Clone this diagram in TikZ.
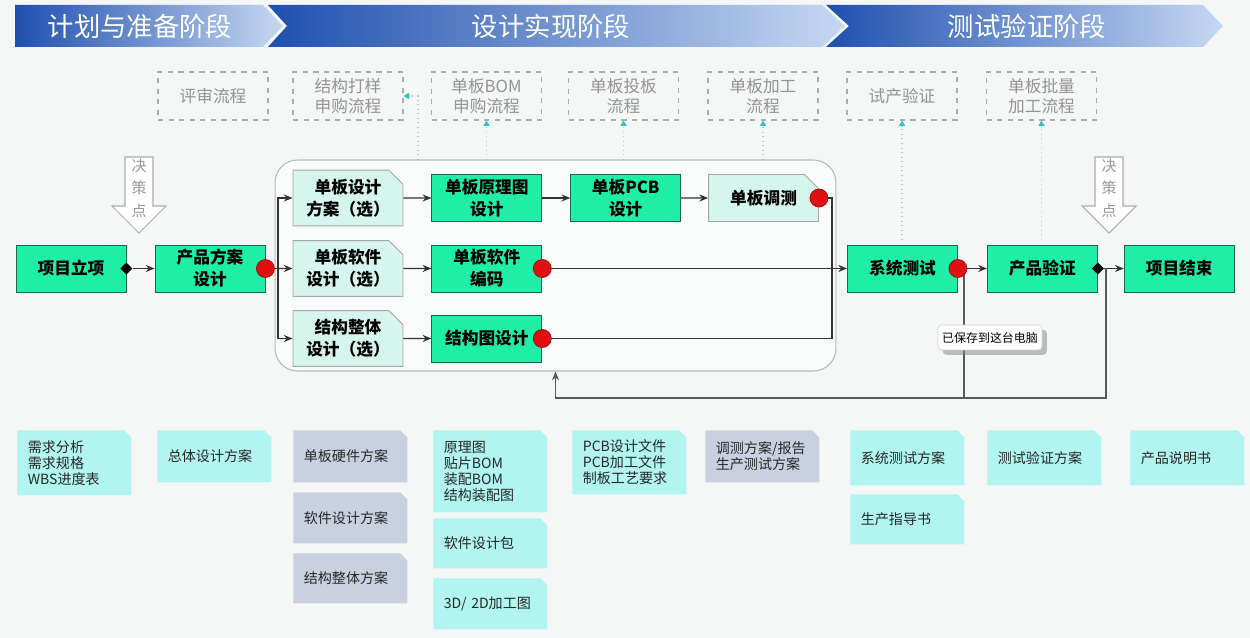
\documentclass[tikz,border=0pt]{standalone}
\usepackage{fontspec}
\setmainfont{Noto Sans CJK SC}
\usepackage{xcolor}
\usepackage{tikz}
\usetikzlibrary{arrows.meta,positioning,shapes,shadows}
\definecolor{hdrdark}{HTML}{1F4FAE}
\definecolor{hdrlight}{HTML}{C6D8F2}
\definecolor{taskgreen}{HTML}{1EEEA6}
\definecolor{optmint}{HTML}{D6F5EC}
\definecolor{doccyan}{HTML}{B2F4F0}
\definecolor{docgray}{HTML}{C9D1E1}
\definecolor{dotred}{HTML}{E00F14}
\definecolor{bgpage}{HTML}{F5F7F7}
\definecolor{guidecyan}{HTML}{2CC6C8}

\begin{document}
\begin{tikzpicture}[
  x=0.02cm, y=-0.02cm,
  phase/.style={font=\fontsize{15}{18}\selectfont,text=white},
  task/.style={rectangle,draw=taskgreen!45!black,fill=taskgreen,line width=0.5pt,
               minimum width=2.2cm,minimum height=0.94cm,inner sep=1pt,align=center,
               font=\bfseries\fontsize{9.5}{12.5}\selectfont},
  option/.style={chamfered rectangle,chamfered rectangle corners=north east,
                 chamfered rectangle xsep=4pt,chamfered rectangle ysep=4pt,
                 draw=gray!70,fill=optmint,line width=0.5pt,
                 minimum width=2.2cm,minimum height=0.94cm,inner sep=1pt,align=center,
                 font=\bfseries\fontsize{9.5}{12.5}\selectfont},
  flow/.style={rectangle,draw=gray!65,dashed,line width=0.6pt,text=gray!85,
               minimum width=2.2cm,minimum height=0.96cm,inner sep=1pt,align=center,
               font=\fontsize{9.5}{11.5}\selectfont},
  doc/.style={chamfered rectangle,chamfered rectangle corners=north east,
              chamfered rectangle xsep=2pt,chamfered rectangle ysep=2pt,
              fill=doccyan,draw=none,anchor=north west,text=black!85,
              text width=1.86cm,inner xsep=0.14cm,inner ysep=1pt,minimum height=1.04cm,
              align=left,font=\fontsize{8}{9.2}\selectfont},
  docg/.style={doc,fill=docgray},
  stage/.style={rectangle,draw=gray!55,fill=white!55!bgpage,line width=0.6pt,
                rounded corners=0.45cm,minimum width=11.22cm,minimum height=4.22cm},
  reddot/.style={circle,fill=dotred,draw=dotred!70!black,line width=0.4pt,
                 minimum size=0.36cm,inner sep=0pt},
  gate/.style={diamond,fill=black,minimum size=7pt,inner sep=0pt},
  wire/.style={line width=0.8pt,draw=black!80},
  arr/.style={wire,-{Stealth[length=5pt,width=4pt]}},
  guide/.style={dotted,draw=gray!45,line width=0.6pt,
                -{Triangle[length=3pt,width=3.5pt,color=guidecyan]}},
  decision/.style={draw=gray!65,fill=white,line width=0.6pt},
  decnote/.style={text=gray!80,align=center,font=\fontsize{8.5}{12.8}\selectfont},
  toast/.style={rectangle,draw=gray!35,fill=white,rounded corners=2pt,drop shadow,
                minimum width=2.08cm,minimum height=0.5cm,inner sep=1pt,
                font=\fontsize{6.8}{8}\selectfont}
]
  \useasboundingbox (0,0) rectangle (1250,638);
  \fill[bgpage] (0,0) rectangle (1250,638);

  % phase header
  \shade[left color=hdrdark,right color=hdrlight]
    (15,5) -- (263,5) -- (283,26) -- (263,47) -- (15,47) -- cycle;
  \shade[left color=hdrdark,right color=hdrlight]
    (268,5) -- (822,5) -- (845,26) -- (822,47) -- (268,47) -- (287,26) -- cycle;
  \shade[left color=hdrdark,right color=hdrlight]
    (826,5) -- (1203,5) -- (1223,26) -- (1203,47) -- (826,47) -- (849,26) -- cycle;
  \node[phase] (phPlan) at (140,26) {计划与准备阶段};
  \node[phase] (phDesign) at (551,26) {设计实现阶段};
  \node[phase] (phTest) at (1027,26) {测试验证阶段};

  % supporting flows
  \node[flow] (fReview) at (213,96) {评审流程};
  \node[flow] (fMech) at (348,96) {结构打样\\申购流程};
  \node[flow] (fBOM) at (486.5,96) {单板BOM\\申购流程};
  \node[flow] (fPCB) at (623.5,96) {单板投板\\流程};
  \node[flow] (fFab) at (763,96) {单板加工\\流程};
  \node[flow] (fTrial) at (902,96) {试产验证};
  \node[flow] (fBatch) at (1041.5,96) {单板批量\\加工流程};

  \coordinate (gMech) at (418,160);
  \coordinate (gBOM) at (486.5,160);
  \coordinate (gPCB) at (623.5,160);
  \coordinate (gFab) at (763,160);
  \coordinate (gTrial) at (902,240);
  \coordinate (gBatch) at (1041.5,240);
  \draw[guide] (gMech) |- (fMech.east);
  \draw[guide] (gBOM) -- (fBOM.south);
  \draw[guide] (gPCB) -- (fPCB.south);
  \draw[guide] (gFab) -- (fFab.south);
  \draw[guide] (gTrial) -- (fTrial.south);
  \draw[guide] (gBatch) -- (fBatch.south);

  % decision points
  \foreach \cx/\nm in {139/decA,1109/decB}{
    \draw[decision] ({\cx-14},157) -- ({\cx+14},157) -- ({\cx+14},206) -- ({\cx+27},206)
      -- (\cx,233) -- ({\cx-27},206) -- ({\cx-14},206) -- cycle;
    \node[decnote] (\nm) at (\cx,188) {决\\策\\点};
  }

  % design stage frame
  \node[stage] (stage) at (555.5,265.5) {};

  % main flow
  \node[task] (start) at (71,268.5) {项目立项};
  \node[task] (scheme) at (210,268.5) {产品方案\\设计};
  \node[option] (hwplan) at (348,198) {单板设计\\方案（选）};
  \node[option] (swplan) at (348,268.5) {单板软件\\设计（选）};
  \node[option] (mechplan) at (348,338.5) {结构整体\\设计（选）};
  \node[task,right=0.56cm of hwplan] (sch) {单板原理图\\设计};
  \node[task,right=0.56cm of swplan] (swcode) {单板软件\\编码};
  \node[task,right=0.56cm of mechplan] (mechdraw) {结构图设计};
  \node[task,right=0.56cm of sch] (pcb) {单板PCB\\设计};
  \node[option,right=0.54cm of pcb] (debug) {单板调测};
  \node[task] (systest) at (902.5,268.5) {系统测试};
  \node[task,right=0.58cm of systest] (verify) {产品验证};
  \node[task,right=0.52cm of verify] (finish) {项目结束};

  \coordinate (br) at (278,268.5);
  \coordinate (mg) at (832,268.5);
  \coordinate (fbA) at (964,268.5);
  \coordinate (fbB) at (1106,268.5);
  \coordinate (fbC) at (555.5,398);

  \node[gate] (gt1) at (start.east) {};
  \node[gate] (gt2) at (verify.east) {};
  \draw[arr] (gt1) -- (scheme);
  \draw[wire] (scheme.east) -- (br);
  \draw[arr] (br) |- (hwplan);
  \draw[arr] (br) -- (swplan);
  \draw[arr] (br) |- (mechplan);
  \draw[arr] (hwplan) -- (sch);
  \draw[arr] (swplan) -- (swcode);
  \draw[arr] (mechplan) -- (mechdraw);
  \draw[arr] (sch) -- (pcb);
  \draw[arr] (pcb) -- (debug);
  \draw[wire] (debug.east) -| (mg);
  \draw[wire] (mechdraw.east) -| (mg);
  \draw[arr] (swcode.east) -- (systest);
  \draw[arr] (systest.east) -- (verify);
  \draw[arr] (gt2) -- (finish);
  \draw[wire,line width=0.6pt,draw=black!65] (fbA) -- (fbA |- fbC);
  \draw[arr,line width=0.6pt,draw=black!65] (fbB) |- (fbC) -- (stage.south);

  \node[reddot] (rd0) at (scheme.east) {};
  \node[reddot] (rd1) at (debug.east) {};
  \node[reddot] (rd2) at (swcode.east) {};
  \node[reddot] (rd3) at (mechdraw.east) {};
  \node[reddot] (rd4) at (systest.east) {};

  % deliverables
  \node[doc,minimum height=1.3cm] (dReq) at (17,430) {需求分析\\需求规格\\WBS进度表};
  \node[doc] (dOverall) at (157,430) {总体设计方案};
  \node[docg] (dHw) at (293,430) {单板硬件方案};
  \node[docg,minimum height=1.02cm] (dSw) at (293,492) {软件设计方案};
  \node[docg,minimum height=1.0cm] (dMech) at (293,553) {结构整体方案};
  \node[doc,minimum height=1.64cm] (dSch) at (433,430) {原理图\\贴片BOM\\装配BOM\\结构装配图};
  \node[doc,minimum height=1.0cm] (dSwPkg) at (433,518) {软件设计包};
  \node[doc,minimum height=1.02cm] (dCad) at (433,578) {3D/ 2D加工图};
  \node[doc,minimum height=1.28cm] (dPcb) at (572,430) {PCB设计文件\\PCB加工文件\\制板工艺要求};
  \node[docg] (dDebug) at (705,430) {调测方案/报告\\生产测试方案};
  \node[doc,minimum height=1.1cm] (dSys) at (850,430) {系统测试方案};
  \node[doc,minimum height=1.0cm] (dProd) at (850,494) {生产指导书};
  \node[doc,minimum height=1.1cm] (dVer) at (987,430) {测试验证方案};
  \node[doc,minimum height=1.1cm] (dManual) at (1130,430) {产品说明书};

  \node[toast] (saved) at (990,337.5) {已保存到这台电脑};
\end{tikzpicture}
\end{document}
